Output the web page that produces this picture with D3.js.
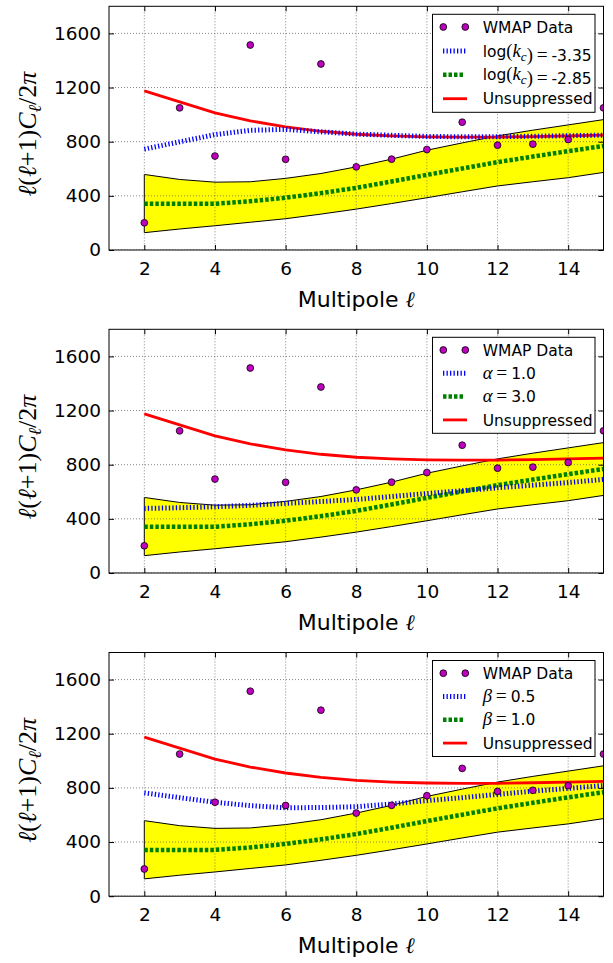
<!DOCTYPE html>
<html>
<head>
<meta charset="utf-8">
<script src="https://cdn.jsdelivr.net/npm/d3@7"></script>
<style>
  body { margin: 0; background: #fff; }
  text { font-family: "DejaVu Sans", sans-serif; }
</style>
</head>
<body>
<svg id="chart" width="613" height="963"></svg>
<script>
// multipoles
const ell = [2, 3, 4, 5, 6, 7, 8, 9, 10, 11, 12, 13, 14, 15];

// WMAP points
const wmap = [201, 1050, 694, 1514, 670, 1374, 614, 671, 742, 944, 774, 782, 816, 1050];

// unsuppressed spectrum and the yellow band (cosmic variance)
const unsuppressed = [1175, 1094, 1013, 954, 910, 877, 855, 843, 836, 833, 834, 838, 843, 848];
const bandUpper = [558, 521, 501, 504, 529, 565, 614, 671, 737, 791, 843, 885, 924, 963];
const bandLower = [128, 155, 179, 205, 231, 265, 302, 343, 386, 430, 473, 504, 534, 573];

// green curve (same in all three panels)
const greenCurve = [341, 341, 342, 360, 386, 420, 459, 506, 555, 602, 649, 690, 730, 768];

// blue curves, one per panel
const blueKc = [745, 799, 852, 884, 891, 873, 856, 847, 839, 836, 837, 840, 844, 848];
const blueAlpha = [477, 482, 489, 500, 514, 528, 543, 565, 587, 608, 629, 649, 668, 691];
const blueBeta = [763, 728, 694, 669, 653, 655, 661, 681, 706, 728, 752, 776, 796, 818];

const xTicks = [2, 4, 6, 8, 10, 12, 14];
const yTicks = [0, 400, 800, 1200, 1600];

// legend labels as runs of text: s = sans, m = math (serif), i = italic, sub = subscript, eq = spaced "="
const blueLabels = [
  [["log", "s"], ["(", "m"], ["k", "i"], ["c", "sub"], [")", "m"], ["=", "eq"], ["-3.35", "s"]],
  [["α", "i"], ["=", "eq"], ["1.0", "s"]],
  [["β", "i"], ["=", "eq"], ["0.5", "s"]]
];
const greenLabels = [
  [["log", "s"], ["(", "m"], ["k", "i"], ["c", "sub"], [")", "m"], ["=", "eq"], ["-2.85", "s"]],
  [["α", "i"], ["=", "eq"], ["3.0", "s"]],
  [["β", "i"], ["=", "eq"], ["1.0", "s"]]
];
const blueSeries = [blueKc, blueAlpha, blueBeta];

const svg = d3.select("#chart");
const plotLeft = 109, plotRight = 603.5, plotH = 243.7;
const panelTops = [6.3, 329.3, 652.5];

const x = d3.scaleLinear().domain([1, 15]).range([plotLeft, plotRight]);

function addRuns(text, runs, size) {
  runs.forEach(([t, kind]) => {
    const ts = text.append("tspan").text(t);
    if (kind === "s") {
      ts.style("font-family", "DejaVu Sans").style("font-size", size + "px");
    } else if (kind === "m") {
      ts.style("font-family", "Liberation Serif").style("font-size", (size * 1.2) + "px");
    } else if (kind === "eq") {
      ts.text("\u2009=\u2009").style("font-family", "Liberation Serif").style("font-size", (size * 1.25) + "px");
    } else if (kind === "i") {
      ts.style("font-family", "Liberation Serif").style("font-style", "italic").style("font-size", (size * 1.2) + "px");
    } else if (kind === "sub") {
      ts.style("font-family", "Liberation Serif").style("font-style", "italic").style("font-size", (size * 0.85) + "px")
        .attr("dy", 4);
      text.append("tspan").attr("dy", -4).text("");
    }
  });
}

panelTops.forEach((top, p) => {
  const y = d3.scaleLinear().domain([0, 1800]).range([top + plotH, top]);
  const g = svg.append("g");

  const clipId = "clip" + p;
  svg.append("clipPath").attr("id", clipId)
    .append("rect")
    .attr("x", plotLeft).attr("y", top)
    .attr("width", plotRight - plotLeft).attr("height", plotH);

  const data = g.append("g").attr("clip-path", `url(#${clipId})`);

  // band
  const area = d3.area()
    .x((d, i) => x(ell[i]))
    .y0((d, i) => y(bandLower[i]))
    .y1((d, i) => y(bandUpper[i]));
  data.append("path")
    .datum(ell)
    .attr("d", area)
    .attr("fill", "#ffff00")
    .attr("stroke", "#000")
    .attr("stroke-width", 1);

  const line = d3.line().x((d, i) => x(ell[i])).y(d => y(d));

  // grid
  const grid = data.append("g")
    .attr("stroke", "#555")
    .attr("stroke-width", 0.7)
    .attr("stroke-dasharray", "1,2");
  grid.selectAll(".gx").data(xTicks).enter().append("line")
    .attr("x1", d => x(d)).attr("x2", d => x(d))
    .attr("y1", top).attr("y2", top + plotH);
  grid.selectAll(".gy").data(yTicks).enter().append("line")
    .attr("x1", plotLeft).attr("x2", plotRight)
    .attr("y1", d => y(d)).attr("y2", d => y(d));

  data.append("path").datum(greenCurve)
    .attr("d", line)
    .attr("fill", "none")
    .attr("stroke", "#008000")
    .attr("stroke-width", 4.5)
    .attr("stroke-dasharray", "3.5,2");

  data.append("path").datum(unsuppressed)
    .attr("d", line)
    .attr("fill", "none")
    .attr("stroke", "#ff0000")
    .attr("stroke-width", 2.8);

  data.append("path").datum(blueSeries[p])
    .attr("d", line)
    .attr("fill", "none")
    .attr("stroke", "#0000ff")
    .attr("stroke-width", 5)
    .attr("stroke-dasharray", "1.3,2.2");

  data.selectAll(".dot").data(wmap).enter().append("circle")
    .attr("cx", (d, i) => x(ell[i]))
    .attr("cy", d => y(d))
    .attr("r", 3.4)
    .attr("fill", "#bf00bf")
    .attr("stroke", "#000")
    .attr("stroke-width", 0.8);

  // frame
  g.append("rect")
    .attr("x", plotLeft).attr("y", top)
    .attr("width", plotRight - plotLeft).attr("height", plotH)
    .attr("fill", "none").attr("stroke", "#000").attr("stroke-width", 1);

  // axes with inward ticks
  const xAxis = g.append("g").attr("transform", `translate(0,${top + plotH})`)
    .call(d3.axisBottom(x).tickValues(xTicks).tickSizeInner(-5).tickSizeOuter(0).tickPadding(12).tickFormat(d3.format("d")));
  const xAxisTop = g.append("g").attr("transform", `translate(0,${top})`)
    .call(d3.axisTop(x).tickValues(xTicks).tickSizeInner(-5).tickSizeOuter(0).tickFormat(""));
  const yAxis = g.append("g").attr("transform", `translate(${plotLeft},0)`)
    .call(d3.axisLeft(y).tickValues(yTicks).tickSizeInner(-5).tickSizeOuter(0).tickPadding(8).tickFormat(d3.format("d")));
  const yAxisR = g.append("g").attr("transform", `translate(${plotRight},0)`)
    .call(d3.axisRight(y).tickValues(yTicks).tickSizeInner(-5).tickSizeOuter(0).tickFormat(""));
  [xAxis, xAxisTop, yAxis, yAxisR].forEach(a => {
    a.select(".domain").remove();
    a.selectAll(".tick line").attr("stroke", "#000");
    a.selectAll("text").style("font-family", "DejaVu Sans").style("font-size", "18.5px").attr("fill", "#000");
  });
  xAxis.selectAll("text").attr("dy", "0.71em");

  // axis labels
  svg.append("text")
    .attr("x", (plotLeft + plotRight) / 2)
    .attr("y", top + plotH + 57)
    .attr("text-anchor", "middle")
    .style("font-size", "22px")
    .text("Multipole ")
    .append("tspan").style("font-family", "Liberation Serif").style("font-style", "italic").text("ℓ");

  const yl = svg.append("text")
    .attr("transform", `translate(36,${top + plotH / 2 + 6}) rotate(-90)`)
    .attr("text-anchor", "middle")
    .style("font-family", "Liberation Serif")
    .style("font-size", "26px");
  yl.append("tspan").style("font-style", "italic").text("ℓ");
  yl.append("tspan").text("(");
  yl.append("tspan").style("font-style", "italic").text("ℓ");
  yl.append("tspan").text("+1)");
  yl.append("tspan").style("font-style", "italic").text("C");
  yl.append("tspan").style("font-style", "italic").style("font-size", "18px").attr("dy", 5).text("ℓ");
  yl.append("tspan").attr("dy", -5).text("/2");
  yl.append("tspan").style("font-style", "italic").text("π");

  // legend
  const rowGap = p === 0 ? 23.9 : 23.3;
  const boxTop = top + 8;
  const boxH = p === 0 ? 98 : 96;
  const lg = g.append("g");
  lg.append("rect")
    .attr("x", 432.5).attr("y", boxTop)
    .attr("width", 162.5).attr("height", boxH)
    .attr("fill", "#fff").attr("stroke", "#000").attr("stroke-width", 1);
  const rowY = i => boxTop + 12.7 + i * rowGap;

  lg.selectAll(".ld").data([443.3, 465.3]).enter().append("circle")
    .attr("cx", d => d).attr("cy", rowY(0)).attr("r", 3.4)
    .attr("fill", "#bf00bf").attr("stroke", "#000").attr("stroke-width", 0.8);
  lg.append("line").attr("x1", 443).attr("x2", 467).attr("y1", rowY(1)).attr("y2", rowY(1))
    .attr("stroke", "#0000ff").attr("stroke-width", 5).attr("stroke-dasharray", "1.3,2.2");
  lg.append("line").attr("x1", 443).attr("x2", 464).attr("y1", rowY(2)).attr("y2", rowY(2))
    .attr("stroke", "#008000").attr("stroke-width", 4.5).attr("stroke-dasharray", "3.5,2");
  lg.append("line").attr("x1", 443).attr("x2", 467).attr("y1", rowY(3)).attr("y2", rowY(3))
    .attr("stroke", "#ff0000").attr("stroke-width", 2.8);

  const size = 15.5;
  lg.append("text").attr("x", 482.7).attr("y", rowY(0) + 5.6).style("font-size", size + "px").text("WMAP Data");
  addRuns(lg.append("text").attr("x", 482.7).attr("y", rowY(1) + 5.6), blueLabels[p], size);
  addRuns(lg.append("text").attr("x", 482.7).attr("y", rowY(2) + 5.6), greenLabels[p], size);
  lg.append("text").attr("x", 482.7).attr("y", rowY(3) + 5.6).style("font-size", size + "px").text("Unsuppressed");
});
</script>
</body>
</html>
